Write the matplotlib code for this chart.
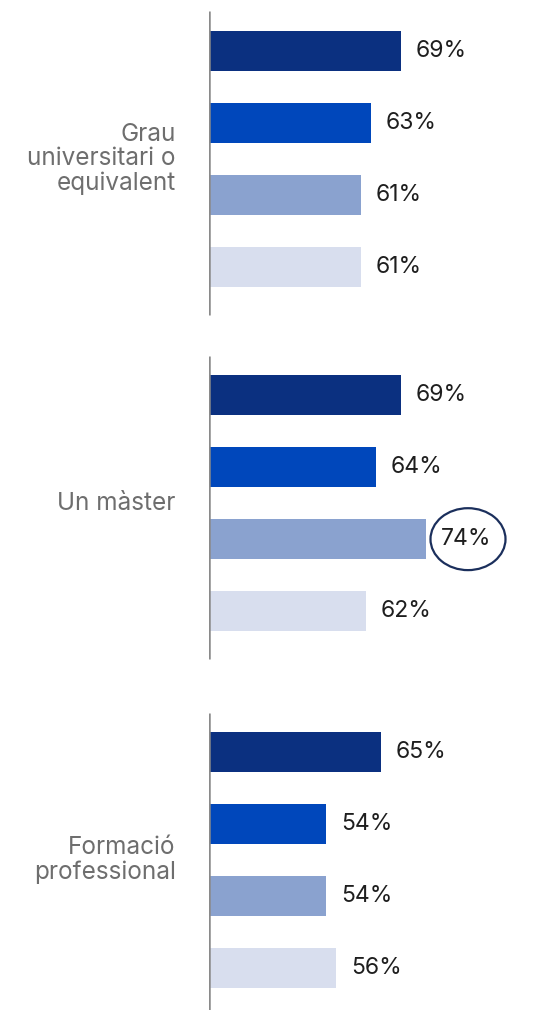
import matplotlib.pyplot as plt
from matplotlib.patches import Ellipse

# Data
groups = ['Grau\nuniversitari o\nequivalent', 'Un màster', 'Formació\nprofessional']
values = [
    [69, 63, 61, 61],
    [69, 64, 74, 62],
    [65, 54, 54, 56],
]
colors = ['#0b3080', '#0047bb', '#8aa2cf', '#d8deee']
highlight = (1, 2)  # group, bar circled

plt.rcParams['font.family'] = ['Inter', 'DejaVu Sans']

fig = plt.figure(figsize=(5.44, 10.10), dpi=100)
ax = fig.add_axes([209 / 544, 0, 1 - 209 / 544, 1])

base = 30.6
group_offsets = [0, 4.78, 9.74]
bar_h = 0.56

for g, (label, vals) in enumerate(zip(groups, values)):
    y0 = group_offsets[g]
    ys = [y0 + i for i in range(len(vals))]
    ax.barh(ys, [v - base for v in vals], left=base, height=bar_h, color=colors)
    for i, (y, v) in enumerate(zip(ys, vals)):
        ax.text(v + 3.0, y, f'{v}%', va='center', ha='left', fontsize=16.5, color='#1e1e1e')
        if (g, i) == highlight:
            ax.add_patch(Ellipse((v + 8.4, y), width=15, height=0.86, fill=False,
                                 edgecolor='#1b2f5c', linewidth=1.6, clip_on=False))
    # group axis line
    ax.vlines(base, y0 - 0.55, y0 + 3.67, color='#8a8a8a', linewidth=1.8)
    # group label
    ax.text(-0.1, y0 + 1.5, label, transform=ax.get_yaxis_transform(), ha='right', va='center',
            fontsize=17.5, color='#6e6e6e', linespacing=1.08, clip_on=False)

ax.set_xlim(base, base + (544 - 209) / 5)
ax.set_ylim((1010 - 51) / 72, -51 / 72)
ax.axis('off')

fig.savefig('out.png', dpi=100)
